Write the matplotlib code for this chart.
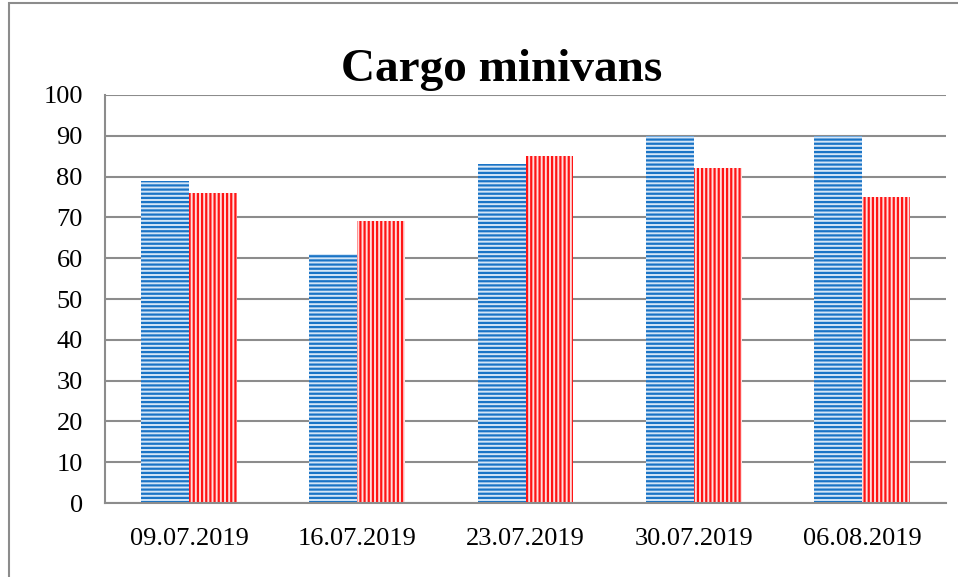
import numpy as np
import matplotlib.pyplot as plt
from matplotlib.patches import Rectangle

dates = ["09.07.2019", "16.07.2019", "23.07.2019", "30.07.2019", "06.08.2019"]
series_a = [79, 61, 83, 90, 90]
series_b = [76, 69, 85, 82, 75]
yticks = [0, 10, 20, 30, 40, 50, 60, 70, 80, 90, 100]

plt.rcParams['font.family'] = ['Liberation Serif', 'DejaVu Serif']
plt.rcParams['hatch.linewidth'] = 1.6

fig = plt.figure(figsize=(9.58, 5.77), dpi=100)
ax = fig.add_axes([0.1096, 0.1282, 0.8779, 0.7072])

x = np.arange(len(dates))
w = 0.285
ax.bar(x - w / 2, series_a, w, facecolor="#d4e6f7", edgecolor="#1a74c6",
       linewidth=0, hatch="----", zorder=2)
ax.bar(x + w / 2, series_b, w, facecolor="#ffdede", edgecolor="#ff1414",
       linewidth=0, hatch="||||", zorder=2)

ax.set_xlim(-0.5, len(dates) - 0.5)
ax.set_ylim(0, 100)
ax.set_yticks(yticks)
ax.set_xticks(x)
ax.set_xticklabels(dates)
ax.tick_params(axis="both", length=0, labelsize=19, colors="black")
ax.tick_params(axis="y", pad=16)
ax.tick_params(axis="x", pad=18)
ax.grid(axis="y", color="#8c8c8c", linewidth=1.5, zorder=0)
for s in ["left", "bottom"]:
    ax.spines[s].set_color("#8c8c8c")
    ax.spines[s].set_linewidth(1.5)
for s in ["top", "right"]:
    ax.spines[s].set_visible(False)

fig.text(0.524, 0.86, "Cargo minivans", ha="center", va="baseline",
         fontsize=34, fontweight="bold")

# outer chart frame
fig.patches.append(Rectangle((0.0094, -0.01), 1.0, 1.004, transform=fig.transFigure,
                             fill=False, edgecolor="#8c8c8c", linewidth=1.5))

fig.savefig("out.png", dpi=100)
